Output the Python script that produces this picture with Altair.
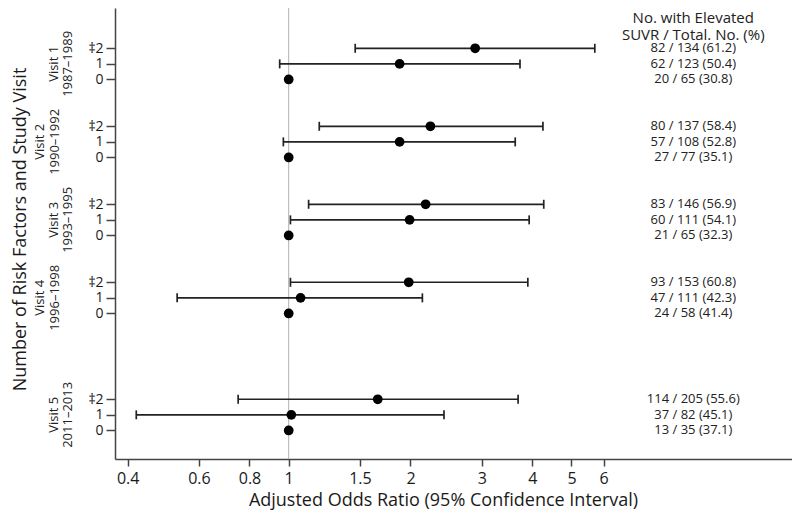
import altair as alt
import pandas as pd

# ---- data ----
visit_names = ["Visit 1", "Visit 2", "Visit 3", "Visit 4", "Visit 5"]
visit_years = ["1987–1989", "1990–1992", "1993–1995", "1996–1998", "2011–2013"]
group_slot = [0, 5, 10, 15, 22.5]          # row slot of each visit's first row
risk_labels = ["‡2", "1", "0"]

or_ge2 = [2.89, 2.24, 2.18, 1.98, 1.66]
lo_ge2 = [1.46, 1.19, 1.12, 1.01, 0.75]
hi_ge2 = [5.71, 4.25, 4.27, 3.90, 3.69]
or_1 = [1.88, 1.88, 1.99, 1.07, 1.015]
lo_1 = [0.95, 0.97, 1.01, 0.53, 0.42]
hi_1 = [3.73, 3.63, 3.93, 2.14, 2.42]
or_0 = [1, 1, 1, 1, 1]

elev_ge2 = [82, 80, 83, 93, 114]
tot_ge2 = [134, 137, 146, 153, 205]
pct_ge2 = [61.2, 58.4, 56.9, 60.8, 55.6]
elev_1 = [62, 57, 60, 47, 37]
tot_1 = [123, 108, 111, 111, 82]
pct_1 = [50.4, 52.8, 54.1, 42.3, 45.1]
elev_0 = [20, 27, 21, 24, 13]
tot_0 = [65, 77, 65, 58, 35]
pct_0 = [30.8, 35.1, 32.3, 41.4, 37.1]

header_lines = ["No. with Elevated", "SUVR / Total. No. (%)"]
x_ticks = [0.4, 0.6, 0.8, 1, 1.5, 2, 3, 4, 5, 6]

rows = []
for v in range(5):
    series = [
        (or_ge2[v], lo_ge2[v], hi_ge2[v], elev_ge2[v], tot_ge2[v], pct_ge2[v]),
        (or_1[v], lo_1[v], hi_1[v], elev_1[v], tot_1[v], pct_1[v]),
        (or_0[v], None, None, elev_0[v], tot_0[v], pct_0[v]),
    ]
    for i, (o, lo, hi, e, t, p) in enumerate(series):
        rows.append({
            "visit": v + 1,
            "pos": group_slot[v] + i,
            "risk": risk_labels[i],
            "or": o, "lo": lo, "hi": hi,
            "label": f"{e} / {t} ({p:.1f})",
        })
df = pd.DataFrame(rows)

vis_df = pd.DataFrame({
    "visit": list(range(1, 6)),
    "name": visit_names,
    "years": visit_years,
    "pos": [s + 1 for s in group_slot],
})

FONT = "Open Sans"
XTITLE = "Adjusted Odds Ratio (95% Confidence Interval)"
YTITLE = "Number of Risk Factors and Study Visit"

label_expr = ""
for r in rows:
    label_expr += f"datum.value == {r['pos']} ? '{r['risk']}' : "
label_expr += "''"

xscale = alt.Scale(type="log", domain=[0.3721, 17.54], nice=False)
yscale = alt.Scale(domain=[-2.583, 26.33], reverse=True, nice=False, zero=False)

xaxis = alt.Axis(values=x_ticks, format="~g", grid=False, tickSize=7,
                 labelFontSize=16, labelPadding=4, labelFlush=False,
                 labelOverlap=False,
                 titleFontSize=18, titleFontWeight="normal",
                 titleX=328, titleY=46, titleAlign="center",
                 titleBaseline="alphabetic")
yaxis = alt.Axis(values=[r["pos"] for r in rows], labelExpr=label_expr,
                 grid=False, tickSize=9, labelFontSize=14, labelPadding=3,
                 labelOverlap=False,
                 titleFontSize=18, titleFontWeight="normal",
                 titleX=-95, titleY=221, titleAngle=270, titleAlign="center",
                 titleBaseline="middle")


def X(field):
    return alt.X(field, scale=xscale, axis=xaxis, title=XTITLE)


def Y():
    return alt.Y("pos:Q", scale=yscale, axis=yaxis, title=YTITLE)


base = alt.Chart(df)

ref = alt.Chart(pd.DataFrame({"r": [1]})).mark_rule(
    color="#b0b0b0", strokeWidth=1
).encode(x=X("r:Q"))

ci = base.transform_filter("isValid(datum.lo)").mark_rule(
    color="#222222", strokeWidth=1.7
).encode(x=X("lo:Q"), x2="hi:Q", y=Y())

cap_lo = base.transform_filter("isValid(datum.lo)").mark_tick(
    orient="vertical", size=9, thickness=1.7, color="#222222", opacity=1
).encode(x=X("lo:Q"), y=Y())

cap_hi = base.transform_filter("isValid(datum.hi)").mark_tick(
    orient="vertical", size=9, thickness=1.7, color="#222222", opacity=1
).encode(x=X("hi:Q"), y=Y())

pts = base.mark_circle(size=95, color="black", opacity=1).encode(
    x=X("or:Q"), y=Y()
)

counts = base.mark_text(
    font=FONT, fontSize=13, align="center", baseline="middle", color="#222222"
).encode(x=alt.datum(10), y=Y(), text="label:N")

header1 = alt.Chart(pd.DataFrame({"h": [header_lines[0]]})).mark_text(
    font=FONT, fontSize=15, align="center", baseline="middle", color="#222222"
).encode(x=alt.datum(10), y=alt.value(10), text="h:N")

header2 = alt.Chart(pd.DataFrame({"h": [header_lines[1]]})).mark_text(
    font=FONT, fontSize=15, align="center", baseline="middle", color="#222222"
).encode(x=alt.datum(10), y=alt.value(26.5), text="h:N")

visit_name = alt.Chart(vis_df).transform_calculate(
    lx="datum.visit % 2 == 0 ? -75 : -61",
).mark_text(
    font=FONT, fontSize=13, angle=270, align="center", baseline="middle",
    color="#222222"
).encode(
    x=alt.X("lx:Q", scale=None),
    y=alt.Y("pos:Q", scale=yscale, axis=yaxis, title=YTITLE),
    text="name:N",
)

visit_year = alt.Chart(vis_df).transform_calculate(
    lx="datum.visit % 2 == 0 ? -60 : -47",
).mark_text(
    font=FONT, fontSize=13, angle=270, align="center", baseline="middle",
    color="#222222"
).encode(
    x=alt.X("lx:Q", scale=None),
    y=alt.Y("pos:Q", scale=yscale, axis=yaxis, title=YTITLE),
    text="years:N",
)

chart = alt.layer(ref, ci, cap_lo, cap_hi, pts, counts, header1, header2,
                  visit_name, visit_year).properties(
    width=677, height=451,
    padding={"left": 107, "top": 0, "right": 0, "bottom": 52},
    autosize=alt.AutoSizeParams(type="none"),
).configure_view(stroke=None).configure_axis(
    domainColor="#444444", domainWidth=1.5, tickColor="#444444", tickWidth=1.5,
    labelColor="#1a1a1a", titleColor="#1a1a1a", labelFont=FONT, titleFont=FONT,
).configure_text(font=FONT)

chart.save("out.html", embed_options={"renderer": "svg", "actions": False})
